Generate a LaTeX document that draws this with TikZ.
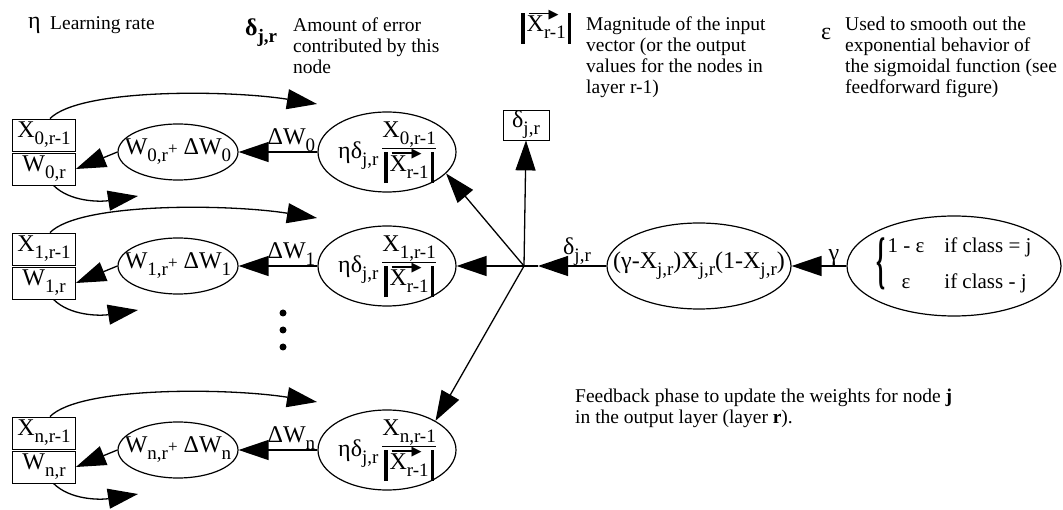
\documentclass[tikz,border=0pt]{standalone}
\usepackage{amsmath,amssymb}
\usepackage{graphicx}
\usepackage{fontspec}
\setmainfont{Liberation Serif}
\newfontfamily\symf{DejaVu Sans}
\usepackage{tikz}
\usetikzlibrary{arrows.meta, positioning}
\usetikzlibrary{shapes.geometric}
\newcommand\lo[1]{\raisebox{-7pt}{\fontsize{19}{19}\selectfont #1}}
\newcommand\vx{\makebox[0pt][l]{\kern2pt\raisebox{17.5pt}{\rule{22pt}{1.4pt}}\kern-2pt\raisebox{13.3pt}{\symf\fontsize{13}{13}\selectfont ▶}}X\lo{r-1}}
\newcommand\magX{\rule[-12pt]{3.5pt}{31pt}\kern2pt\vx\kern2pt\rule[-12pt]{3.5pt}{31pt}}
\newcommand\frc[1]{{\setlength\arrayrulewidth{1.5pt}\begin{tabular}{@{}c@{}}#1\\[1pt]\hline\rule{0pt}{22pt}\magX\end{tabular}}}
\newcommand\brc{\raisebox{-10pt}{\scalebox{1.1}[3]{\bfseries\{}}}

\begin{document}
\begin{tikzpicture}[x=1pt,y=-1pt,
    lbl/.style={font={\fontsize{24}{24}\selectfont},inner sep=1pt},
    note/.style={font={\fontsize{19.5}{21}\selectfont},align=left,inner sep=0pt},
    wbox/.style={lbl,draw,line width=0.8pt,minimum width=63pt,minimum height=32pt},
    upd/.style={lbl,ellipse,draw,line width=1.2pt,inner sep=-40pt,minimum width=120pt,minimum height=56pt},
    grad/.style={upd,minimum width=138pt,minimum height=80pt},
    conn/.style={line width=1.3pt,-{Triangle[length=30pt,width=20pt]}},
    dot/.style={circle,fill,inner sep=0pt,minimum size=7pt}]
            \useasboundingbox (0,0) rectangle (1063,510);
            \node[lbl,anchor=base west](ls1) at (27,29) {η};
            \node[note,anchor=base west](lt1) at (50,30) {Learning rate};
            \node[lbl,anchor=base west](ls2) at (244,36) {\bfseries δ\lo{j,r}};
            \node[note,anchor=north west](lt2) at (293,17.6) {Amount of error\\contributed by this\\node};
            \node[lbl,anchor=base west](ls3) at (520,32) {\magX};
            \node[note,anchor=north west](lt3) at (586,16.6) {Magnitude of the input\\vector (or the output\\values for the nodes in\\layer r-1)};
            \node[lbl,anchor=base west](ls4) at (820,40) {ε};
            \node[note,anchor=north west](lt4) at (845,16.6) {Used to smooth out the\\exponential behavior of\\the sigmoidal function (see\\feedforward figure)};
            \node[note,anchor=north west](fb) at (575,389) {Feedback phase to update the weights for node \textbf{j}\\in the output layer (layer \textbf{r}).};

            \node[wbox](x0) at (44,135) {X\lo{0,r-1}};
            \node[wbox](w0) at (44,169) {W\lo{0,r}};
            \node[upd](u0) at (178,152) {W\lo{0,r}{\fontsize{17}{17}\selectfont+} ΔW\lo{0}};
            \node[grad](g0) at (387,152) {ηδ\lo{j,r}\,\frc{X\lo{0,r-1}}};
            \coordinate (t0) at (317,104);
            \coordinate (b0) at (138,196);
            \draw[conn] (g0.west) -- node[lbl,above,inner sep=0pt,pos=0.33](dw0) {ΔW\lo{0}} (u0.east);
            \draw[conn] (u0.west) -- (w0.east);
            \draw[conn] (x0.70) .. controls (80,88) and (230,90) .. (t0);
            \draw[conn] (w0.-60) .. controls (70,202) and (100,202) .. (b0);

            \node[wbox](x1) at (44,249) {X\lo{1,r-1}};
            \node[wbox](w1) at (44,283) {W\lo{1,r}};
            \node[upd](u1) at (178,266) {W\lo{1,r}{\fontsize{17}{17}\selectfont+} ΔW\lo{1}};
            \node[grad](g1) at (387,266) {ηδ\lo{j,r}\,\frc{X\lo{1,r-1}}};
            \coordinate (t1) at (317,218);
            \coordinate (b1) at (138,310);
            \draw[conn] (g1.west) -- node[lbl,above,inner sep=0pt,pos=0.33](dw1) {ΔW\lo{1}} (u1.east);
            \draw[conn] (u1.west) -- (w1.east);
            \draw[conn] (x1.70) .. controls (80,202) and (230,204) .. (t1);
            \draw[conn] (w1.-60) .. controls (70,316) and (100,316) .. (b1);

            \node[dot](d1) at (283,313) {};
            \node[dot](d2) at (283,330) {};
            \node[dot](d3) at (283,347) {};

            \node[wbox](xn) at (44,433) {X\lo{n,r-1}};
            \node[wbox](wn) at (44,467) {W\lo{n,r}};
            \node[upd](un) at (178,450) {W\lo{n,r}{\fontsize{17}{17}\selectfont+} ΔW\lo{n}};
            \node[grad](gn) at (387,450) {ηδ\lo{j,r}\,\frc{X\lo{n,r-1}}};
            \coordinate (tn) at (317,402);
            \coordinate (bn) at (138,494);
            \draw[conn] (gn.west) -- node[lbl,above,inner sep=0pt,pos=0.33](dwn) {ΔW\lo{n}} (un.east);
            \draw[conn] (un.west) -- (wn.east);
            \draw[conn] (xn.70) .. controls (80,386) and (230,388) .. (tn);
            \draw[conn] (wn.-60) .. controls (70,500) and (100,500) .. (bn);

            \coordinate (J) at (524,266);
            \coordinate (Jin) at (538,266);
            \node[wbox,minimum width=46pt,minimum height=30pt](db) at (526,125) {δ\lo{j,r}};
            \node[upd,minimum width=184pt,minimum height=86pt](m) at (699,266) {(γ-X\lo{j,r})X\lo{j,r}(1-X\lo{j,r})};
            \node[upd,minimum width=214pt,minimum height=100pt,font={\fontsize{21}{21}\selectfont}](c) at (954,266) {\brc\kern2pt\begin{tabular}{@{}c@{\hspace{20pt}}l@{}}1 - ε & if class = j\\\rule{0pt}{30pt}ε & if class - j\end{tabular}};
            \draw[conn] (c.west) -- node[lbl,above,inner sep=0pt,pos=0.23](gm) {γ} (m.east);
            \draw[conn] (m.west) -- node[lbl,above,inner sep=0pt,pos=0.43](dl) {δ\lo{j,r}} (Jin);
            \draw[line width=1.3pt] (Jin) -- (J);
            \draw[conn] (J) -- (db.south);
            \draw[conn] (J) -- (g0.-20);
            \draw[conn] (J) -- (g1.east);
            \draw[conn] (J) -- (gn.31);
        \end{tikzpicture}
\end{document}
